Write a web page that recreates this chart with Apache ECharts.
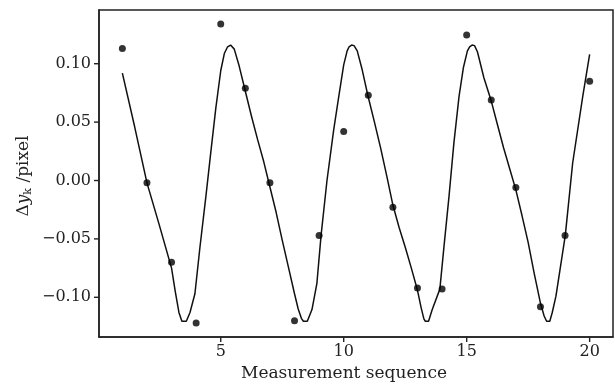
<!DOCTYPE html>
<html>
<head>
<meta charset="utf-8">
<script src="https://cdn.jsdelivr.net/npm/echarts@6/dist/echarts.min.js"></script>
<style>html,body{margin:0;padding:0;background:#fff;}#c{width:615px;height:384px;}</style>
</head>
<body>
<div id="c"></div>
<script>
// Measured points
const measurementIndex = [1,2,3,4,5,6,7,8,9,10,11,12,13,14,15,16,17,18,19,20];
const deltaY = [0.113,-0.002,-0.070,-0.122,0.134,0.079,-0.002,-0.120,-0.047,0.042,0.073,-0.023,-0.092,-0.093,0.1245,0.069,-0.006,-0.108,-0.047,0.085];

// Fitted curve
const fitX = [1.0,1.5,2.0,2.5,3.0,3.15,3.3,3.42,3.6,3.75,3.95,4.15,4.4,4.6,4.8,5.0,5.15,5.28,5.4,5.55,5.75,5.97,6.25,6.5,6.75,6.97,7.25,7.5,7.75,8.0,8.15,8.28,8.36,8.52,8.71,8.91,9.08,9.32,9.59,9.8,10.0,10.14,10.22,10.32,10.42,10.55,10.75,10.98,11.25,11.5,11.75,12.0,12.25,12.5,12.75,13.0,13.15,13.26,13.32,13.45,13.6,13.91,14.08,14.28,14.48,14.69,14.87,15.03,15.12,15.22,15.32,15.44,15.7,16.0,16.25,16.5,16.75,17.0,17.25,17.5,17.75,18.0,18.15,18.25,18.38,18.48,18.63,19.01,19.31,19.72,20.0];
const fitY = [0.092,0.046,-0.002,-0.038,-0.075,-0.095,-0.113,-0.1205,-0.1205,-0.113,-0.097,-0.058,-0.013,0.025,0.062,0.094,0.109,0.1145,0.116,0.1125,0.098,0.079,0.055,0.035,0.016,-0.003,-0.027,-0.051,-0.074,-0.097,-0.110,-0.118,-0.1205,-0.1205,-0.1105,-0.088,-0.047,0.0,0.043,0.072,0.099,0.111,0.1145,0.116,0.1155,0.111,0.095,0.073,0.050,0.028,0.004,-0.021,-0.040,-0.057,-0.075,-0.094,-0.109,-0.1185,-0.1205,-0.1205,-0.1105,-0.093,-0.056,-0.014,0.032,0.072,0.097,0.111,0.1145,0.116,0.1155,0.110,0.088,0.068,0.048,0.028,0.010,-0.008,-0.030,-0.053,-0.080,-0.105,-0.116,-0.1205,-0.1205,-0.113,-0.099,-0.047,0.015,0.072,0.108];

const xTicks = [5,10,15,20];
const yTicks = [-0.10,-0.05,0.00,0.05,0.10];

const X_MIN = 0.05, X_MAX = 20.95, Y_MIN = -0.134, Y_MAX = 0.146;
const FONT = 'DejaVu Serif';
const TICK_LEN = 5;
const chart = echarts.init(document.getElementById('c'), null, {renderer:'canvas'});
const fmtY = v => (v < -1e-9 ? '\u2212' : '') + Math.abs(v).toFixed(2);

chart.setOption({
  animation: false,
  backgroundColor: '#fff',
  grid: { left: 99, right: 2, top: 10, bottom: 47, show: true, borderColor: '#222', borderWidth: 1.5, backgroundColor: 'transparent' },
  xAxis: {
    type: 'value', min: X_MIN, max: X_MAX, position: 'bottom',
    axisLine: { show: true, onZero: false, lineStyle: { color: '#222', width: 1.5 } },
    splitLine: { show: false },
    axisTick: { show: false },
    axisLabel: { customValues: xTicks, margin: 7, color: '#222', fontSize: 16, fontFamily: FONT, formatter: v => String(v) }
  },
  yAxis: {
    type: 'value', min: Y_MIN, max: Y_MAX, position: 'left',
    axisLine: { show: true, onZero: false, lineStyle: { color: '#222', width: 1.5 } },
    splitLine: { show: false },
    axisTick: { show: false },
    axisLabel: { customValues: yTicks, margin: 8, color: '#222', fontSize: 16, fontFamily: FONT, formatter: fmtY }
  },
  series: [
    {
      type: 'line',
      data: fitX.map((x, i) => [x, fitY[i]]),
      showSymbol: false,
      smooth: false,
      lineStyle: { color: '#111', width: 1.5 },
      z: 2
    },
    {
      type: 'scatter',
      data: measurementIndex.map((x, i) => [x, deltaY[i]]),
      symbol: 'circle',
      symbolSize: 7,
      itemStyle: { color: '#000' },
      z: 3
    }
  ]
});

// Titles plus outward tick marks placed through the chart's own scales
const graphics = [
  {
    type: 'text', x: 344, y: 374,
    style: { text: 'Measurement sequence', fontSize: 17, fontFamily: FONT, fill: '#222', align: 'center', verticalAlign: 'middle' }
  },
  {
    type: 'text', x: 24, y: 176, rotation: Math.PI / 2,
    style: {
      text: '{d|\u0394}{i|y}{s|k}{d| /pixel}',
      align: 'center', verticalAlign: 'middle', fill: '#222',
      rich: {
        d: { fontSize: 17, fontFamily: FONT, fill: '#222' },
        i: { fontSize: 17, fontFamily: FONT, fontStyle: 'italic', fill: '#222' },
        s: { fontSize: 11, fontFamily: FONT, fill: '#222', padding: [9, 0, 0, 0] }
      }
    }
  }
];
xTicks.forEach(v => {
  const p = chart.convertToPixel({ xAxisIndex: 0, yAxisIndex: 0 }, [v, Y_MIN]);
  graphics.push({ type: 'rect', shape: { x: p[0] - 0.7, y: p[1], width: 1.4, height: TICK_LEN }, style: { fill: '#222' }, z: 100 });
});
yTicks.forEach(v => {
  const p = chart.convertToPixel({ xAxisIndex: 0, yAxisIndex: 0 }, [X_MIN, v]);
  graphics.push({ type: 'rect', shape: { x: p[0] - TICK_LEN, y: p[1] - 0.7, width: TICK_LEN, height: 1.4 }, style: { fill: '#222' }, z: 100 });
});
chart.setOption({ graphic: { elements: graphics } });
</script>
</body>
</html>
